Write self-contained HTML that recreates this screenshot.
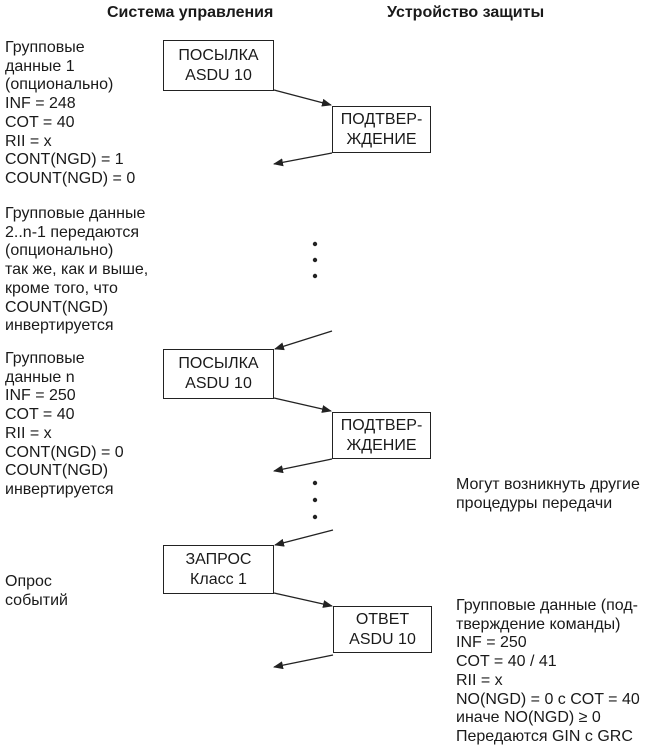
<!DOCTYPE html>
<html><head><meta charset="utf-8"><style>
body{margin:0;background:#fff;width:647px;height:746px;position:relative;overflow:hidden;font-family:"Liberation Sans","Noto Sans CJK SC",sans-serif;color:#1a1a1a}
.t{position:absolute;font-size:16px;line-height:18.7px;white-space:nowrap}
.h{position:absolute;font-size:16px;font-weight:bold;white-space:nowrap}
.b{position:absolute;border:1px solid #222;font-size:16px;line-height:20px;text-align:center;box-sizing:border-box;display:flex;align-items:center;justify-content:center}
svg{position:absolute;left:0;top:0}
</style></head><body>
<div class="h" style="left:107px;top:4px">Система управления</div>
<div class="h" style="left:387px;top:4px">Устройство защиты</div>

<div class="t" style="left:5px;top:39px">Групповые<br>данные 1<br>(опционально)<br>INF = 248<br>COT = 40<br>RII = x<br>CONT(NGD) = 1<br>COUNT(NGD) = 0</div>
<div class="t" style="left:5px;top:205px">Групповые данные<br>2..n-1 передаются<br>(опционально)<br>так же, как и выше,<br>кроме того, что<br>COUNT(NGD)<br>инвертируется</div>
<div class="t" style="left:5px;top:350px">Групповые<br>данные n<br>INF = 250<br>COT = 40<br>RII = x<br>CONT(NGD) = 0<br>COUNT(NGD)<br>инвертируется</div>
<div class="t" style="left:5px;top:573px">Опрос<br>событий</div>
<div class="t" style="left:456px;top:476px">Могут возникнуть другие<br>процедуры передачи</div>
<div class="t" style="left:456px;top:597px">Групповые данные (под-<br>тверждение команды)<br>INF = 250<br>COT = 40 / 41<br>RII = x<br>NO(NGD) = 0 с COT = 40<br>иначе NO(NGD) ≥ 0<br>Передаются GIN с GRC</div>

<div class="b" style="left:163px;top:40px;width:111px;height:51px">ПОСЫЛКА<br>ASDU 10</div>
<div class="b" style="left:332px;top:106px;width:99px;height:47px">ПОДТВЕР-<br>ЖДЕНИЕ</div>
<div class="b" style="left:163px;top:349px;width:111px;height:50px">ПОСЫЛКА<br>ASDU 10</div>
<div class="b" style="left:332px;top:412px;width:99px;height:47px">ПОДТВЕР-<br>ЖДЕНИЕ</div>
<div class="b" style="left:163px;top:545px;width:111px;height:49px">ЗАПРОС<br>Класс 1</div>
<div class="b" style="left:333px;top:606px;width:99px;height:47px">ОТВЕТ<br>ASDU 10</div>

<svg width="647" height="746">
<defs><marker id="a" markerWidth="10" markerHeight="8" refX="9" refY="4" orient="auto" markerUnits="userSpaceOnUse"><path d="M0,0 L10,4 L0,8 Z" fill="#222"/></marker></defs>
<g stroke="#222" stroke-width="1.3" fill="none" marker-end="url(#a)">
<line x1="274" y1="90" x2="331" y2="105"/>
<line x1="332" y1="153" x2="274" y2="164"/>
<line x1="332" y1="331" x2="275" y2="349"/>
<line x1="274" y1="398" x2="331" y2="411"/>
<line x1="332" y1="459" x2="274" y2="471"/>
<line x1="333" y1="530" x2="275" y2="545"/>
<line x1="274" y1="593" x2="332" y2="606"/>
<line x1="333" y1="655" x2="274" y2="667"/>
</g>
<g fill="#222">
<circle cx="315" cy="244" r="2.2"/><circle cx="315" cy="260" r="2.2"/><circle cx="315" cy="276" r="2.2"/>
<circle cx="315" cy="483" r="2.2"/><circle cx="315" cy="500" r="2.2"/><circle cx="315" cy="517" r="2.2"/>
</g>
</svg>
</body></html>
